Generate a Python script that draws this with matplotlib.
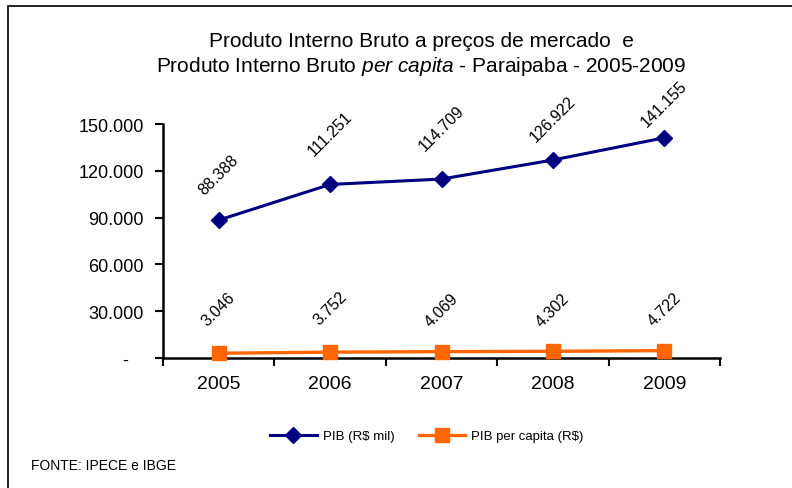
import numpy as np
import matplotlib
matplotlib.use("Agg")
import matplotlib.pyplot as plt
from matplotlib.patches import Rectangle
from matplotlib.ticker import FixedLocator

plt.rcParams['font.family'] = ['Liberation Sans', 'DejaVu Sans']
plt.rcParams['mathtext.fontset'] = 'custom'
plt.rcParams['mathtext.rm'] = 'Liberation Sans'
plt.rcParams['mathtext.it'] = 'Liberation Sans:italic'

# data
years = ['2005', '2006', '2007', '2008', '2009']
pib_mil = [88388, 111251, 114709, 126922, 141155]
pib_per_capita = [3046, 3752, 4069, 4302, 4722]
y_ticks = [0, 30000, 60000, 90000, 120000, 150000]

# label offsets above the points (points), as placed in the original
pib_label_offset = [33, 37, 37, 30, 25]
pc_label_offset = [32, 32, 30, 30, 30]


def fmt_br(v):
    """Thousands separator with a dot, zero shown as a dash"""
    if v == 0:
        return '-   '
    return f"{v:,.0f}".replace(',', '.')


fig = plt.figure(figsize=(7.92, 4.89), dpi=100)
ax = fig.add_axes([163 / 792, 1 - 359 / 489, 557 / 792, 234 / 489])

x = np.arange(len(years))
blue = '#000080'
orange = '#FF6600'

ax.plot(x, pib_mil, color=blue, lw=2.2, marker='D', ms=8,
        label='PIB (R$ mil)', zorder=3)
ax.plot(x, pib_per_capita, color=orange, lw=2.4, marker='s', ms=10,
        label='PIB per capita (R$)', zorder=3, clip_on=False)

# rotated data labels above the points
for xi, v, off in zip(x, pib_mil, pib_label_offset):
    ax.annotate(fmt_br(v), (xi, v), xytext=(0, off), textcoords='offset points',
                rotation=45, ha='center', va='center', fontsize=11.5,
                rotation_mode='anchor')
for xi, v, off in zip(x, pib_per_capita, pc_label_offset):
    ax.annotate(fmt_br(v), (xi, v), xytext=(0, off), textcoords='offset points',
                rotation=45, ha='center', va='center', fontsize=11.5,
                rotation_mode='anchor')

ax.set_xlim(-0.5, len(years) - 0.5)
ax.set_ylim(0, 150000)

ax.set_yticks(y_ticks)
ax.set_yticklabels([fmt_br(v) for v in y_ticks], fontsize=13)
ax.tick_params(axis='y', direction='out', length=6, width=1.5, pad=8)

ax.set_xticks(x)
ax.set_xticklabels(years, fontsize=14)
ax.tick_params(axis='x', which='major', length=0, pad=12)
ax.xaxis.set_minor_locator(FixedLocator(np.arange(-0.5, len(years), 1.0)))
ax.tick_params(axis='x', which='minor', direction='out', length=6, width=1.5)

for side in ['top', 'right']:
    ax.spines[side].set_visible(False)
for side in ['left', 'bottom']:
    ax.spines[side].set_linewidth(1.8)

fig.text(421 / 792, 1 - 42 / 489, 'Produto Interno Bruto a preços de mercado  e',
         ha='center', va='center', fontsize=15)
fig.text(421 / 792, 1 - 66 / 489,
         r'Produto Interno Bruto $\it{per\ capita}$ - Paraipaba - 2005-2009',
         ha='center', va='center', fontsize=15)

fig.legend(loc='center', bbox_to_anchor=(427 / 792, 1 - 437 / 489), ncol=2,
           frameon=False, fontsize=9.5, handlelength=3.5, columnspacing=1.8,
           handletextpad=0.5)

fig.text(31 / 792, 1 - 466 / 489, 'FONTE: IPECE e IBGE', ha='left', va='center',
         fontsize=10)

# outer frame of the chart area
fig.patches.append(Rectangle((8 / 792, -0.1), 2, 1 - 7 / 489 + 0.1, fill=False,
                             lw=1.2, edgecolor='black', transform=fig.transFigure))

fig.savefig('out.png', dpi=100)
